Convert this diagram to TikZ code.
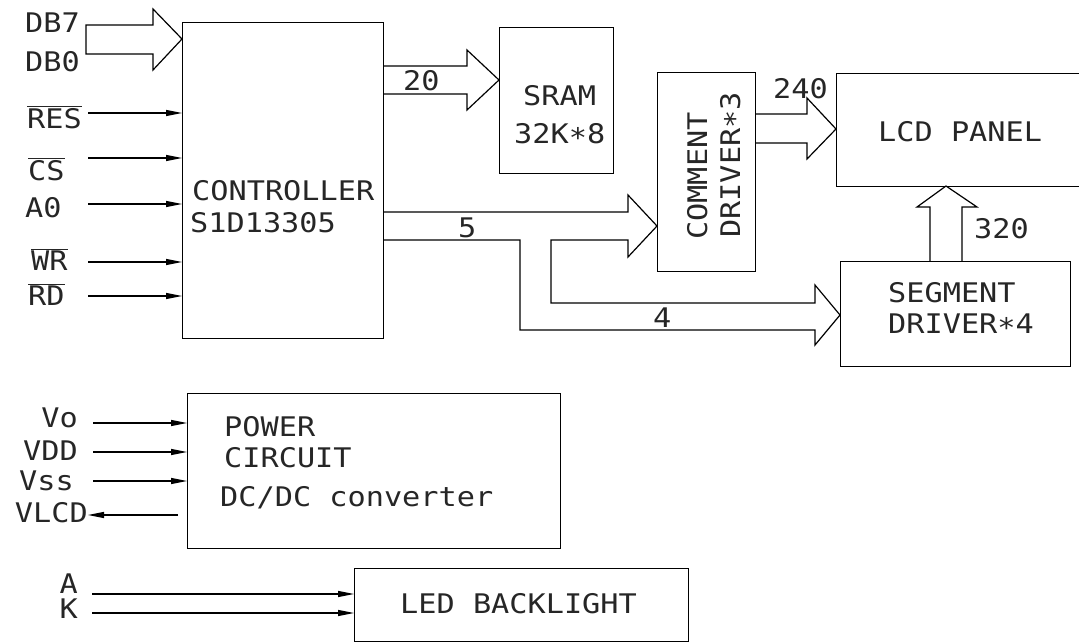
\documentclass[tikz,border=0pt]{standalone}
\usepackage{fontspec}
\usepackage{tikz}
\usetikzlibrary{arrows.meta}
\newfontfamily\cadfont[FakeStretch=1.12]{DejaVu Sans Mono}
\newcommand\cadstar{\raisebox{-4pt}{*}}
\tikzset{
  blk/.style={draw,line width=1.2pt,inner sep=0pt,anchor=north west},
  lbl/.style={inner sep=0pt,text=black!85,font=\cadfont\fontsize{27}{32}\selectfont},
  sig/.style={line width=1.1pt,-{Triangle[length=16pt,width=6pt]}},
  bus/.style={line width=1.2pt,line join=miter},
}
\begin{document}
\begin{tikzpicture}[x=1pt,y=-1pt]
\path[use as bounding box,clip] (0,0) rectangle (1079,642);
% blocks
\node[blk,minimum width=201pt,minimum height=316pt] (ctrl) at (182,22) {};
\node[blk,minimum width=114pt,minimum height=146pt] (sram) at (499,27) {};
\node[blk,minimum width=98pt,minimum height=199pt] (cdrv) at (657,72) {};
\node[blk,minimum width=260pt,minimum height=113pt] (lcd) at (836,73) {};
\node[blk,minimum width=230pt,minimum height=105pt] (sdrv) at (840,261) {};
\node[blk,minimum width=373pt,minimum height=155pt] (pwr) at (187,393) {};
\node[blk,minimum width=334pt,minimum height=73pt] (led) at (354,568) {};
% block texts
\node[lbl,anchor=base west] (tctrl) at (192,200) {CONTROLLER};
\node[lbl,anchor=base west] (tchip) at (190,232) {S1D13305};
\node[lbl,anchor=base west] (tsram) at (523,106) {SRAM};
\node[lbl,anchor=base west] (tsize) at (514,143) {32K\cadstar8};
\node[lbl,rotate=90,anchor=base west] (tcom) at (707,240) {COMMENT};
\node[lbl,rotate=90,anchor=base west] (tcomd) at (740,238) {DRIVER\cadstar3};
\node[lbl,anchor=base west] (tlcd) at (878,141) {LCD PANEL};
\node[lbl,anchor=base west] (tseg) at (888,302) {SEGMENT};
\node[lbl,anchor=base west] (tsegd) at (888,333) {DRIVER\cadstar4};
\node[lbl,anchor=base west] (tpwr) at (224,436) {POWER};
\node[lbl,anchor=base west] (tcirc) at (224,467) {CIRCUIT};
\node[lbl,anchor=base west] (tdcdc) at (220,506) {DC/DC converter};
\node[lbl,anchor=base west] (tled) at (400,613) {LED BACKLIGHT};
% controller inputs
\node[lbl,anchor=base west] (tdb7) at (25,33) {DB7};
\node[lbl,anchor=base west] (tdb0) at (25,72) {DB0};
\node[lbl,anchor=base west] (tres) at (27,128) {$\overline{\mbox{RES}}$};
\node[lbl,anchor=base west] (tcs) at (28,180) {$\overline{\mbox{CS}}$};
\node[lbl,anchor=base west] (ta0) at (25,217) {A0};
\node[lbl,anchor=base west] (twr) at (31,270) {$\overline{\mbox{WR}}$};
\node[lbl,anchor=base west] (trd) at (28,305) {$\overline{\mbox{RD}}$};
\foreach \y in {113,158,204,262,296} {
  \coordinate (p) at (88,\y);
  \draw[sig] (p) -- (p -| ctrl.west);
}
\draw[bus] (86,25) -- (153,25) -- (153,9) -- (ctrl.west |- 0,39) -- (153,70) -- (153,54) -- (86,54) -- cycle;
% buses
\draw[bus] (383,66) -- (467,66) -- (467,50) -- (499,80) -- (467,110) -- (467,94) -- (383,94);
\node[lbl,anchor=base west] (t20) at (403,90) {20};
\draw[bus] (755,114) -- (807,114) -- (807,98) -- (836,129) -- (807,159) -- (807,143) -- (755,143);
\node[lbl,anchor=base west] (t240) at (773,98) {240};
\draw[bus] (930,261) -- (930,207) -- (917,207) -- (946,186) -- (977,207) -- (962,207) -- (962,261);
\node[lbl,anchor=base west] (t320) at (974,238) {320};
\draw[bus] (383,212) -- (628,212) -- (628,195) -- (657,226) -- (628,257) -- (628,240) -- (551,240)
  -- (551,303) -- (815,303) -- (815,285) -- (840,315) -- (815,345) -- (815,330) -- (520,330) -- (520,240) -- (383,240);
\node[lbl,anchor=base west] (t5) at (458,237) {5};
\node[lbl,anchor=base west] (t4) at (653,327) {4};
% power supply
\node[lbl,anchor=base east] (tvo) at (78,427) {Vo};
\node[lbl,anchor=base east] (tvdd) at (78,460) {VDD};
\node[lbl,anchor=base east] (tvss) at (74,490) {Vss};
\node[lbl,anchor=base east] (tvlcd) at (88,522) {VLCD};
\foreach \y in {423,452,481} {
  \coordinate (q) at (93,\y);
  \draw[sig] (q) -- (q -| pwr.west);
}
\coordinate (qlcd) at (178,515);
\draw[sig] (qlcd) -- (tvlcd.east |- qlcd);
% backlight
\node[lbl,anchor=base east] (tan) at (78,593) {A};
\node[lbl,anchor=base east] (tca) at (78,618) {K};
\foreach \y in {594,613} {
  \coordinate (r) at (92,\y);
  \draw[sig] (r) -- (r -| led.west);
}
\end{tikzpicture}
\end{document}
